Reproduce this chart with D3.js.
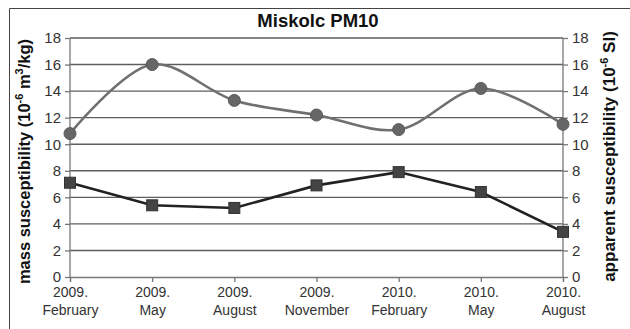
<!DOCTYPE html>
<html>
<head>
<meta charset="utf-8">
<script src="https://cdn.jsdelivr.net/npm/d3@7"></script>
<style>
  html, body { margin: 0; padding: 0; background: #fff; }
  svg { display: block; font-family: "Liberation Sans", Arial, sans-serif; }
</style>
</head>
<body>
<svg id="chart" width="630" height="329"></svg>
<script>
// Sampling campaigns (year / month)
const years = ["2009.", "2009.", "2009.", "2009.", "2010.", "2010.", "2010."];
const months = ["February", "May", "August", "November", "February", "May", "August"];

// Mass susceptibility (10^-6 m3/kg), left axis – grey circles, smoothed line
const massSusceptibility = [10.8, 16.0, 13.3, 12.2, 11.1, 14.2, 11.5];
// Apparent susceptibility (10^-6 SI), right axis – dark squares
const apparentSusceptibility = [7.1, 5.4, 5.2, 6.9, 7.9, 6.4, 3.4];

const yTicks = [0, 2, 4, 6, 8, 10, 12, 14, 16, 18];

const svg = d3.select("#chart");
const margin = { left: 70, right: 67, top: 38, bottom: 52 };
const W = 630, H = 329;
const plotW = W - margin.left - margin.right;
const plotH = H - margin.top - margin.bottom;

// Frame lines around the figure
svg.append("line").attr("x1", 9.5).attr("x2", W).attr("y1", 8.5).attr("y2", 8.5)
  .attr("stroke", "#444").attr("stroke-width", 1);
svg.append("line").attr("x1", 9.5).attr("x2", 9.5).attr("y1", 8.5).attr("y2", H)
  .attr("stroke", "#444").attr("stroke-width", 1);

const g = svg.append("g").attr("transform", `translate(${margin.left},${margin.top})`);

const x = d3.scalePoint().domain(d3.range(years.length)).range([0, plotW]);
const yLeft = d3.scaleLinear().domain([0, 18]).range([plotH, 0]);
const yRight = d3.scaleLinear().domain([0, 18]).range([plotH, 0]);

// Horizontal gridlines
g.append("g").selectAll("line").data(yTicks.filter(d => d > 0)).join("line")
  .attr("x1", 0).attr("x2", plotW)
  .attr("y1", d => yLeft(d)).attr("y2", d => yLeft(d))
  .attr("stroke", "#5e5e5e").attr("stroke-width", 1.4);

// Left axis
const leftAxis = g.append("g")
  .call(d3.axisLeft(yLeft).tickValues(yTicks).tickSize(5).tickPadding(4));
// Right axis
const rightAxis = g.append("g").attr("transform", `translate(${plotW},0)`)
  .call(d3.axisRight(yRight).tickValues(yTicks).tickSize(5).tickPadding(4));
// Bottom axis
const bottomAxis = g.append("g").attr("transform", `translate(0,${plotH})`)
  .call(d3.axisBottom(x).tickSize(5).tickFormat(() => ""));

[leftAxis, rightAxis, bottomAxis].forEach(a => {
  a.select(".domain").attr("stroke", "#777").attr("stroke-width", 1.3);
  a.selectAll(".tick line").attr("stroke", "#777").attr("stroke-width", 1.3);
  a.selectAll(".tick text").attr("fill", "#333").style("font-size", "15px")
    .style("font-family", "Liberation Sans, Arial, sans-serif");
});
leftAxis.select(".domain").attr("d", `M0,0V${plotH}`);
rightAxis.select(".domain").attr("d", `M0,0V${plotH}`);

// Two-line category labels
bottomAxis.selectAll(".tick text").each(function (d) {
  const t = d3.select(this).text(null).attr("y", 0).attr("dy", null);
  t.append("tspan").attr("x", 0).attr("y", 20).text(years[d]);
  t.append("tspan").attr("x", 0).attr("y", 38).text(months[d]);
});
bottomAxis.selectAll(".tick text").style("font-size", "14px");

// Mass susceptibility series (smoothed)
const massLine = d3.line()
  .x((d, i) => x(i)).y(d => yLeft(d))
  .curve(d3.curveCatmullRom.alpha(0.5));
g.append("path").datum(massSusceptibility)
  .attr("d", massLine).attr("fill", "none")
  .attr("stroke", "#707070").attr("stroke-width", 2.6);
g.append("g").selectAll("circle").data(massSusceptibility).join("circle")
  .attr("cx", (d, i) => x(i)).attr("cy", d => yLeft(d)).attr("r", 6)
  .attr("fill", "#666").attr("stroke", "#5a5a5a").attr("stroke-width", 1);

// Apparent susceptibility series (straight segments)
const appLine = d3.line().x((d, i) => x(i)).y(d => yRight(d));
g.append("path").datum(apparentSusceptibility)
  .attr("d", appLine).attr("fill", "none")
  .attr("stroke", "#222").attr("stroke-width", 2.6);
const sq = 11;
g.append("g").selectAll("rect").data(apparentSusceptibility).join("rect")
  .attr("x", (d, i) => x(i) - sq / 2).attr("y", d => yRight(d) - sq / 2)
  .attr("width", sq).attr("height", sq)
  .attr("fill", "#444").attr("stroke", "#333").attr("stroke-width", 1);

// Title
svg.append("text").attr("x", 318).attr("y", 27).attr("text-anchor", "middle")
  .attr("font-weight", "bold").style("font-size", "18.5px").attr("fill", "#111")
  .text("Miskolc PM10");

// Axis titles
const leftTitle = svg.append("text")
  .attr("transform", `translate(30,${margin.top + plotH / 2 + 4}) rotate(-90)`)
  .attr("text-anchor", "middle").attr("font-weight", "bold")
  .style("font-size", "16.5px").attr("fill", "#111");
leftTitle.append("tspan").text("mass susceptibility (10");
leftTitle.append("tspan").attr("dy", -7).style("font-size", "11px").text("-6");
leftTitle.append("tspan").attr("dy", 7).text(" m");
leftTitle.append("tspan").attr("dy", -7).style("font-size", "11px").text("3");
leftTitle.append("tspan").attr("dy", 7).text("/kg)");

const rightTitle = svg.append("text")
  .attr("transform", `translate(615,${margin.top + plotH / 2 - 1}) rotate(-90)`)
  .attr("text-anchor", "middle").attr("font-weight", "bold")
  .style("font-size", "17px").attr("fill", "#111");
rightTitle.append("tspan").text("apparent susceptibility (10");
rightTitle.append("tspan").attr("dy", -7).style("font-size", "11px").text("-6");
rightTitle.append("tspan").attr("dy", 7).text(" SI)");
</script>
</body>
</html>
